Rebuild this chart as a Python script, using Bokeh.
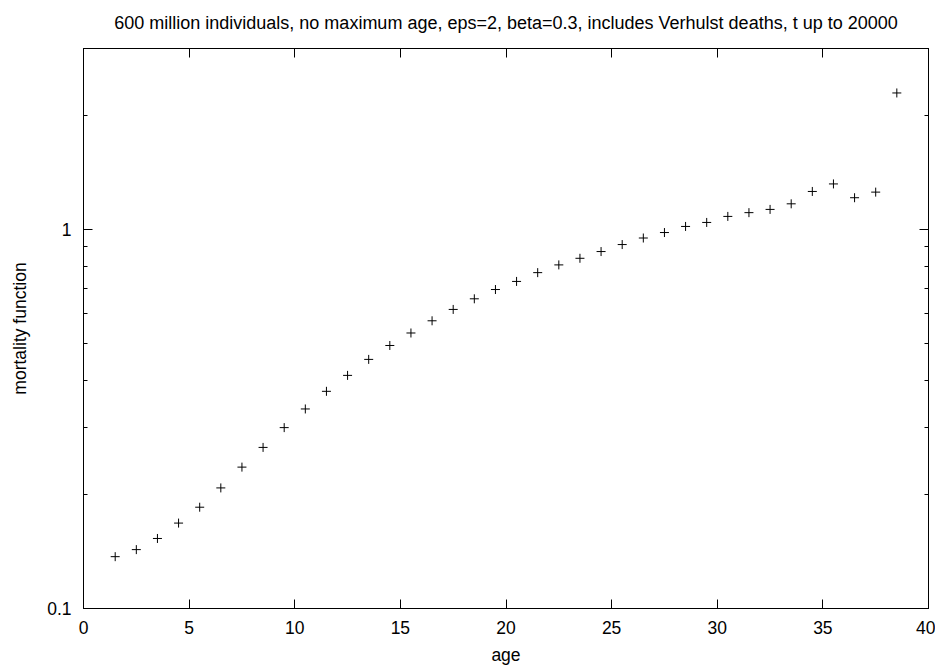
from bokeh.plotting import figure
from bokeh.models import LinearAxis, LogAxis, FixedTicker, Range1d, BasicTickFormatter
from bokeh.embed import file_html
from bokeh.resources import INLINE

# data
ages = [1.5, 2.5, 3.5, 4.5, 5.5, 6.5, 7.5, 8.5, 9.5, 10.5, 11.5, 12.5, 13.5,
        14.5, 15.5, 16.5, 17.5, 18.5, 19.5, 20.5, 21.5, 22.5, 23.5, 24.5,
        25.5, 26.5, 27.5, 28.5, 29.5, 30.5, 31.5, 32.5, 33.5, 34.5, 35.5,
        36.5, 37.5, 38.5]
mortality = [0.137, 0.143, 0.153, 0.168, 0.185, 0.208, 0.236, 0.266, 0.300,
             0.336, 0.374, 0.412, 0.454, 0.494, 0.533, 0.574, 0.615, 0.656,
             0.694, 0.729, 0.769, 0.806, 0.839, 0.874, 0.912, 0.949, 0.981,
             1.018, 1.043, 1.082, 1.107, 1.129, 1.168, 1.259, 1.318, 1.212,
             1.254, 2.29]
x_ticks = [0, 5, 10, 15, 20, 25, 30, 35, 40]
y_ticks = [0.1, 1]
y_minor = [0.2, 0.3, 0.4, 0.5, 0.6, 0.7, 0.8, 0.9, 2, 3]

title = "600 million individuals, no maximum age, eps=2, beta=0.3, includes Verhulst deaths, t up to 20000"
FONT = "Liberation Sans"
FS = "17.5px"

p = figure(frame_width=845, frame_height=560, output_backend="svg", toolbar_location=None,
           x_range=Range1d(0, 40), y_range=Range1d(0.1, 3.0), y_axis_type="log",
           x_axis_type=None, y_axis_location=None,
           min_border_left=83, min_border_right=7, min_border_top=48, min_border_bottom=61)

p.title.text = title
p.title.align = "center"
p.title.text_font = FONT
p.title.text_font_size = "18px"
p.title.text_font_style = "normal"
p.title.text_color = "black"
p.title.standoff = 16
p.title.offset = 14
try:
    p.title.padding = dict(left=0, right=0, top=0, bottom=8)
except Exception:
    pass

p.xgrid.visible = False
p.ygrid.visible = False
p.outline_line_color = "black"
p.outline_line_width = 1
p.background_fill_color = "white"
p.border_fill_color = "white"


def style(ax, labels=True):
    ax.axis_line_color = "black"
    ax.major_tick_in = 9
    ax.major_tick_out = 0
    ax.minor_tick_in = 4
    ax.minor_tick_out = 0
    ax.major_tick_line_color = "black"
    ax.minor_tick_line_color = "black"
    ax.major_label_text_font = FONT
    ax.major_label_text_font_size = FS
    ax.major_label_text_color = "black"
    ax.axis_label_text_font = FONT
    ax.axis_label_text_font_size = FS
    ax.axis_label_text_font_style = "normal"
    ax.axis_label_text_color = "black"
    if not labels:
        ax.major_label_text_font_size = "0px"
        ax.major_label_text_alpha = 0


xb = LinearAxis(ticker=FixedTicker(ticks=x_ticks), axis_label="age")
style(xb)
xb.major_label_standoff = 12
xb.axis_label_standoff = 8
p.add_layout(xb, "below")

xt = LinearAxis(ticker=FixedTicker(ticks=x_ticks))
style(xt, labels=False)
p.add_layout(xt, "above")

yl = LogAxis(ticker=FixedTicker(ticks=y_ticks, minor_ticks=y_minor),
             formatter=BasicTickFormatter(), axis_label="mortality function")
style(yl)
yl.major_label_standoff = 12
yl.axis_label_standoff = 14
p.add_layout(yl, "left")

yr = LogAxis(ticker=FixedTicker(ticks=y_ticks, minor_ticks=y_minor))
style(yr, labels=False)
p.add_layout(yr, "right")

p.scatter(ages, mortality, marker="cross", size=9, line_color="black", line_width=1)

open("out.html", "w").write(file_html(p, INLINE))
